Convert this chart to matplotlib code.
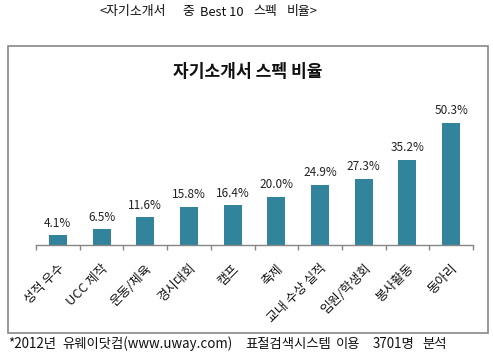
import matplotlib
matplotlib.use("Agg")
import matplotlib.pyplot as plt
from matplotlib.patches import Rectangle
import numpy as np

plt.rcParams['font.family'] = ['Noto Sans CJK KR', 'DejaVu Sans']

categories = ['성적 우수', 'UCC 제작', '운동/체육', '경시대회', '캠프', '축제',
              '교내 수상 실적', '임원/학생회', '봉사활동', '동아리']
values = [4.1, 6.5, 11.6, 15.8, 16.4, 20.0, 24.9, 27.3, 35.2, 50.3]
value_labels = ['4.1%', '6.5%', '11.6%', '15.8%', '16.4%', '20.0%',
                '24.9%', '27.3%', '35.2%', '50.3%']
heading_parts = ['<자기소개서', '중', 'Best 10', '스펙', '비율>']
footer_parts = ['*2012년', '유웨이닷컴(www.uway.com)', '표절검색시스템', '이용', '3701명', '분석']

W, H = 493, 357
fig = plt.figure(figsize=(W / 100, H / 100), dpi=100)

def fx(px):
    return px / W

def fy(py):
    return 1 - py / H

# outer frame
fig.patches.append(Rectangle((fx(8), fy(333)), fx(488) - fx(8), fy(45.5) - fy(333),
                             transform=fig.transFigure, fill=False,
                             edgecolor='#878787', linewidth=1.2))

# axes: x from 36 to 473 px, baseline at 245 px
ymax = 55
base_px = 245.3
top_px = base_px - ymax * 2.437
ax = fig.add_axes([fx(36), fy(base_px), fx(473) - fx(36), fy(top_px) - fy(base_px)])

x = np.arange(len(categories))
ax.bar(x, values, width=0.41, color='#31849B')
ax.set_xlim(-0.5, len(categories) - 0.5)
ax.set_ylim(0, ymax)

for xi, v, lab in zip(x, values, value_labels):
    ax.annotate(lab, (xi, v), xytext=(0, 12), textcoords='offset pixels',
                ha='center', va='center', fontsize=8.5, color='#222222')

for s in ['top', 'left', 'right']:
    ax.spines[s].set_visible(False)
ax.spines['bottom'].set_color('#868686')
ax.spines['bottom'].set_linewidth(1.0)
ax.set_yticks([])
ax.set_xticks(x)
ax.set_xticklabels(categories, rotation=45, ha='right', va='top',
                   rotation_mode='anchor', fontsize=9.3, color='#111111')
ax.tick_params(axis='x', which='major', length=0, pad=12)
ax.set_xticks(np.arange(-0.5, len(categories), 1.0), minor=True)
ax.tick_params(axis='x', which='minor', length=3.5, color='#868686', width=1.0, direction='out')

# chart title
fig.text(fx(247.5), fy(72), '자기소개서 스펙 비율', ha='center', va='center',
         fontsize=12.3, fontweight='bold', color='#111111')

# heading
for xp, t in zip([100, 182, 200, 253, 287], heading_parts):
    fig.text(fx(xp), fy(12), t, ha='left', va='center', fontsize=9.3, color='#111111')

# footer
for xp, t in zip([8, 62, 245, 336, 373, 422], footer_parts):
    fig.text(fx(xp), fy(344), t, ha='left', va='center', fontsize=9.6, color='#111111')

fig.savefig('out.png', dpi=100)
